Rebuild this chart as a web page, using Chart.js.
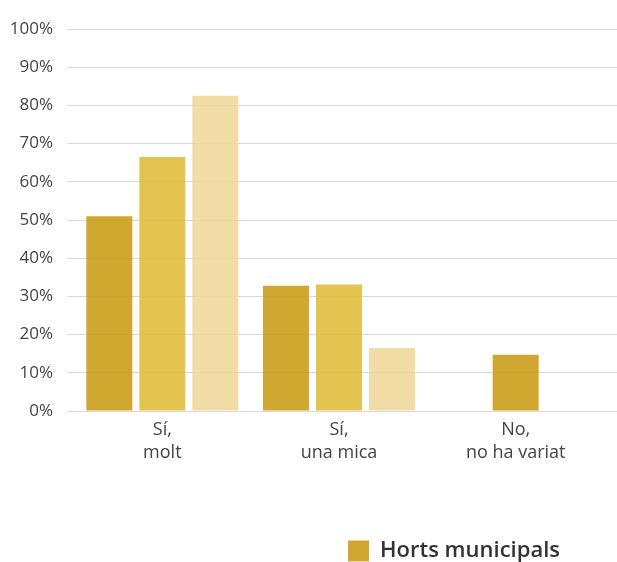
<!DOCTYPE html>
<html lang="ca">
<head>
    <meta charset="UTF-8">
    <title>Horts municipals</title>
    <script src="https://cdn.jsdelivr.net/npm/chart.js"></script>
    <style>
        body {
            margin: 0;
            overflow: hidden;
            background: #fff;
        }
        .wrap {
            width: 617px;
            height: 562px;
            overflow: hidden;
        }
        .box {
            width: 617px;
            height: 572px;
        }
    </style>
</head>
<body>
    <div class="wrap">
        <div class="box"><canvas id="chart"></canvas></div>
    </div>

    <script>
        // categories and series
        const categories = [["Sí,", "molt"], ["Sí,", "una mica"], ["No,", "no ha variat"]];
        const seriesNames = ["Horts municipals", "Horts socials", "Horts particulars"];
        const hortsMunicipals = [51, 32.8, 14.7];
        const hortsSocials = [66.5, 33.1, null];
        const hortsParticulars = [82.5, 16.5, null];
        const yTicks = [0, 10, 20, 30, 40, 50, 60, 70, 80, 90, 100];

        const colors = ["rgba(200,153,11,0.85)", "rgba(223,186,49,0.85)", "rgba(237,214,148,0.85)"];
        const gridColor = "#d9d9d9";
        const font = "'Open Sans', sans-serif";

        const ctx = document.getElementById("chart").getContext("2d");
        new Chart(ctx, {
            type: "bar",
            data: {
                labels: categories,
                datasets: [hortsMunicipals, hortsSocials, hortsParticulars].map((d, i) => ({
                    label: seriesNames[i],
                    data: d,
                    backgroundColor: colors[i],
                    borderWidth: 0,
                    skipNull: true, // lone bar sits in the middle of its group
                    maxBarThickness: 46,
                    categoryPercentage: 0.9,
                    barPercentage: 0.868
                }))
            },
            options: {
                responsive: true,
                maintainAspectRatio: false,
                animation: false,
                layout: { padding: { top: 29, left: 10, right: 0, bottom: 0 } },
                plugins: {
                    tooltip: { enabled: false },
                    legend: {
                        position: "bottom",
                        align: "end",
                        labels: {
                            filter: item => item.datasetIndex === 0,
                            boxWidth: 21,
                            boxHeight: 21,
                            padding: 57,
                            color: "#333",
                            font: { family: font, size: 22, weight: "600" }
                        }
                    }
                },
                scales: {
                    x: {
                        grid: { display: false, drawTicks: false },
                        border: { display: false },
                        ticks: {
                            color: "#444",
                            padding: 7,
                            font: { family: font, size: 18, lineHeight: 1.3 }
                        },
                        afterFit: scale => { scale.height = 72; }
                    },
                    y: {
                        min: 0,
                        max: 100,
                        afterBuildTicks: scale => { scale.ticks = yTicks.map(v => ({ value: v })); },
                        afterFit: scale => { scale.width = 64; },
                        grid: { color: gridColor, lineWidth: 1, drawTicks: true, tickLength: 7 },
                        border: { display: false },
                        ticks: {
                            color: "#444",
                            padding: 14,
                            font: { family: font, size: 17 },
                            callback: v => v + "%"
                        }
                    },
                    y2: {
                        position: "right",
                        min: 0,
                        max: 100,
                        afterBuildTicks: scale => { scale.ticks = yTicks.map(v => ({ value: v })); },
                        grid: { color: gridColor, lineWidth: 1, drawOnChartArea: false, drawTicks: true, tickLength: 13 },
                        border: { display: false },
                        ticks: { display: false }
                    }
                }
            }
        });
    </script>
</body>
</html>
